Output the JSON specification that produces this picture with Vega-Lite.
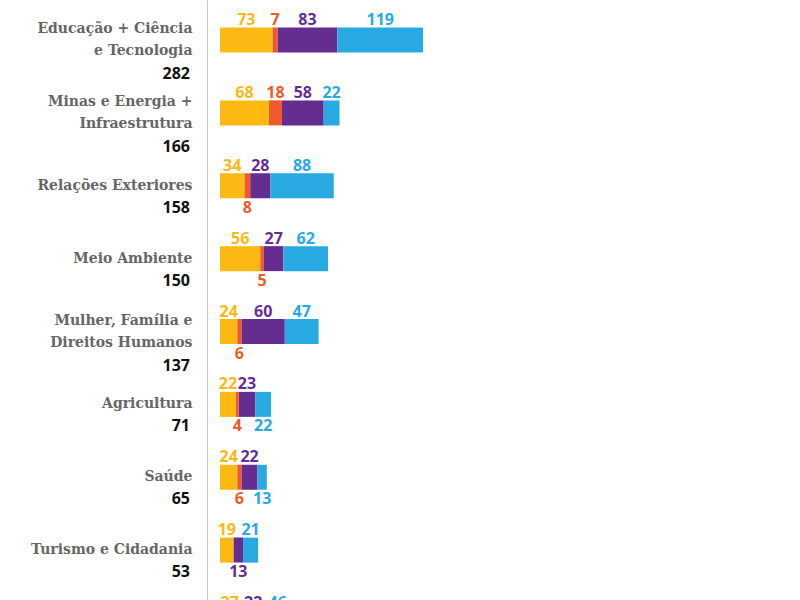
{
  "$schema": "https://vega.github.io/schema/vega-lite/v6.json",
  "width": 576,
  "height": 663,
  "autosize": "none",
  "padding": {"left": 220, "top": 0, "right": 0, "bottom": 0},
  "background": "white",
  "config": {"view": {"stroke": null}},
  "data": {
    "values": [
      {"cat": "Educação + Ciência|e Tecnologia", "serie": "Amarelo", "v": 73},
      {"cat": "Educação + Ciência|e Tecnologia", "serie": "Laranja", "v": 7},
      {"cat": "Educação + Ciência|e Tecnologia", "serie": "Roxo", "v": 83},
      {"cat": "Educação + Ciência|e Tecnologia", "serie": "Azul", "v": 119},
      {"cat": "Minas e Energia +|Infraestrutura", "serie": "Amarelo", "v": 68},
      {"cat": "Minas e Energia +|Infraestrutura", "serie": "Laranja", "v": 18},
      {"cat": "Minas e Energia +|Infraestrutura", "serie": "Roxo", "v": 58},
      {"cat": "Minas e Energia +|Infraestrutura", "serie": "Azul", "v": 22},
      {"cat": "Relações Exteriores", "serie": "Amarelo", "v": 34},
      {"cat": "Relações Exteriores", "serie": "Laranja", "v": 8},
      {"cat": "Relações Exteriores", "serie": "Roxo", "v": 28},
      {"cat": "Relações Exteriores", "serie": "Azul", "v": 88},
      {"cat": "Meio Ambiente", "serie": "Amarelo", "v": 56},
      {"cat": "Meio Ambiente", "serie": "Laranja", "v": 5},
      {"cat": "Meio Ambiente", "serie": "Roxo", "v": 27},
      {"cat": "Meio Ambiente", "serie": "Azul", "v": 62},
      {"cat": "Mulher, Família e|Direitos Humanos", "serie": "Amarelo", "v": 24},
      {"cat": "Mulher, Família e|Direitos Humanos", "serie": "Laranja", "v": 6},
      {"cat": "Mulher, Família e|Direitos Humanos", "serie": "Roxo", "v": 60},
      {"cat": "Mulher, Família e|Direitos Humanos", "serie": "Azul", "v": 47},
      {"cat": "Agricultura", "serie": "Amarelo", "v": 22},
      {"cat": "Agricultura", "serie": "Laranja", "v": 4},
      {"cat": "Agricultura", "serie": "Roxo", "v": 23},
      {"cat": "Agricultura", "serie": "Azul", "v": 22},
      {"cat": "Saúde", "serie": "Amarelo", "v": 24},
      {"cat": "Saúde", "serie": "Laranja", "v": 6},
      {"cat": "Saúde", "serie": "Roxo", "v": 22},
      {"cat": "Saúde", "serie": "Azul", "v": 13},
      {"cat": "Turismo e Cidadania", "serie": "Amarelo", "v": 19},
      {"cat": "Turismo e Cidadania", "serie": "Roxo", "v": 13},
      {"cat": "Turismo e Cidadania", "serie": "Azul", "v": 21},
      {"cat": "Outros", "serie": "Amarelo", "v": 27},
      {"cat": "Outros", "serie": "Laranja", "v": 8},
      {"cat": "Outros", "serie": "Roxo", "v": 22},
      {"cat": "Outros", "serie": "Azul", "v": 46}
    ]
  },
  "transform": [
    {"calculate": "indexof(['Amarelo','Laranja','Roxo','Azul'], datum.serie)", "as": "ordem"},
    {"stack": "v", "groupby": ["cat"], "sort": [{"field": "ordem", "order": "ascending"}], "as": ["x0", "x1"]},
    {"calculate": "(datum.x0 + datum.x1) / 2", "as": "meio"},
    {"calculate": "indexof(['Relações Exteriores/Laranja','Meio Ambiente/Laranja','Mulher, Família e|Direitos Humanos/Laranja','Agricultura/Laranja','Agricultura/Azul','Saúde/Laranja','Saúde/Azul','Turismo e Cidadania/Roxo','Outros/Laranja'], datum.cat + '/' + datum.serie) >= 0", "as": "abaixo"}
  ],
  "encoding": {
    "y": {
      "field": "cat",
      "type": "nominal",
      "sort": null,
      "scale": {"paddingInner": 0, "paddingOuter": 0.049},
      "axis": {
        "title": null,
        "offset": 13,
        "domainColor": "#c8c8c8",
        "domainWidth": 1,
        "ticks": false,
        "labelPadding": 15,
        "labelFont": "DejaVu Serif",
        "labelFontWeight": "bold",
        "labelFontSize": 14,
        "labelColor": "#666666",
        "labelLineHeight": 22,
        "labelLimit": 260,
        "labelOffset": {"condition": {"test": "indexof(datum.value, '|') >= 0", "value": -11}, "value": 0},
        "labelExpr": "split(datum.label, '|')"
      }
    }
  },
  "layer": [
    {
      "mark": {"type": "bar", "height": 25},
      "encoding": {
        "x": {"field": "x0", "type": "quantitative", "scale": {"domain": [0, 800]}, "axis": null},
        "x2": {"field": "x1"},
        "color": {
          "field": "serie",
          "type": "nominal",
          "scale": {"domain": ["Amarelo", "Laranja", "Roxo", "Azul"], "range": ["#FDB913", "#F05A28", "#662D91", "#29A9E1"]},
          "legend": null
        }
      }
    },
    {
      "transform": [{"filter": "!datum.abaixo"}],
      "mark": {"type": "text", "font": "Open Sans", "fontWeight": "bold", "fontSize": 16, "dy": -20, "baseline": "middle"},
      "encoding": {
        "x": {"field": "meio", "type": "quantitative"},
        "text": {"field": "v", "type": "quantitative"},
        "color": {"field": "serie", "type": "nominal", "legend": null}
      }
    },
    {
      "transform": [{"filter": "datum.abaixo"}],
      "mark": {"type": "text", "font": "Open Sans", "fontWeight": "bold", "fontSize": 16, "dy": 22, "baseline": "middle"},
      "encoding": {
        "x": {"field": "meio", "type": "quantitative"},
        "text": {"field": "v", "type": "quantitative"},
        "color": {"field": "serie", "type": "nominal", "legend": null}
      }
    },
    {
      "transform": [
        {"aggregate": [{"op": "sum", "field": "v", "as": "total"}], "groupby": ["cat"]},
        {"filter": "test(/\\|/, datum.cat)"}
      ],
      "mark": {"type": "text", "font": "Open Sans", "fontWeight": "bold", "fontSize": 16, "align": "right", "baseline": "middle", "dx": -30, "dy": 34, "color": "#111111"},
      "encoding": {
        "x": {"datum": 0, "type": "quantitative"},
        "text": {"field": "total", "type": "quantitative"}
      }
    },
    {
      "transform": [
        {"aggregate": [{"op": "sum", "field": "v", "as": "total"}], "groupby": ["cat"]},
        {"filter": "!test(/\\|/, datum.cat)"}
      ],
      "mark": {"type": "text", "font": "Open Sans", "fontWeight": "bold", "fontSize": 16, "align": "right", "baseline": "middle", "dx": -30, "dy": 22, "color": "#111111"},
      "encoding": {
        "x": {"datum": 0, "type": "quantitative"},
        "text": {"field": "total", "type": "quantitative"}
      }
    }
  ]
}
